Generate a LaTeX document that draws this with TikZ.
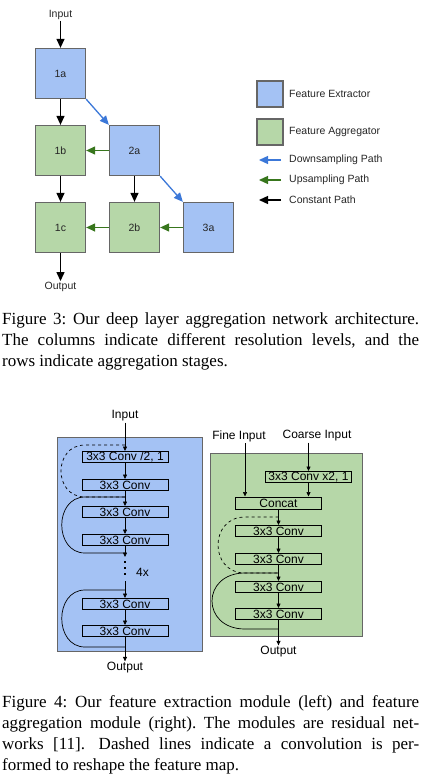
\documentclass[tikz,border=0pt]{standalone}
\usepackage{fontspec}
\setmainfont{Liberation Serif}
\newfontfamily\diagfont{Liberation Sans}
\usetikzlibrary{arrows.meta,positioning}

\definecolor{extblue}{HTML}{A4C2F4}
\definecolor{agggreen}{HTML}{B6D7A8}
\definecolor{downblue}{HTML}{3C78D8}
\definecolor{upgreen}{HTML}{38761D}
\definecolor{edgegray}{HTML}{666666}

\tikzset{
  stage/.style={draw=edgegray, line width=1.3pt, minimum size=50pt, inner sep=0pt,
    font=\diagfont\fontsize{10.5}{12}\selectfont, text=black!85},
  extractor/.style={stage, fill=extblue},
  aggregator/.style={stage, fill=agggreen},
  lbl/.style={font=\diagfont\fontsize{10.5}{12}\selectfont, text=black!85, inner sep=1pt},
  constpath/.style={-{Triangle[length=9pt,width=8pt]}, line width=1.3pt, black},
  downpath/.style={constpath, downblue},
  uppath/.style={constpath, upgreen},
  convbox/.style={draw, line width=1pt, minimum width=86pt, minimum height=11pt,
    inner sep=0pt, font=\diagfont\fontsize{12}{12}\selectfont},
  modlbl/.style={font=\diagfont\fontsize{12}{12}\selectfont, inner sep=1pt},
  flowarrow/.style={-{Triangle[length=4.5pt,width=4pt]}, line width=0.7pt},
  resline/.style={line width=0.7pt},
  modframe/.style={draw=edgegray, line width=1pt},
  figcap/.style={text width=417pt, align=justify, inner sep=0pt,
    font=\fontsize{17}{21}\selectfont\frenchspacing, anchor=base west}
}

\begin{document}
\begin{tikzpicture}[x=1pt,y=-1pt,node distance={77pt and 74pt},on grid]
\useasboundingbox (0,0) rectangle (421,774);

% figure 3: aggregation grid
\node[lbl] (in3) at (60.5,15) {Input};
\node[extractor] (n1a) at (60.5,73.5) {1a};
\node[aggregator, below=of n1a] (n1b) {1b};
\node[aggregator, below=of n1b] (n1c) {1c};
\node[extractor, right=of n1b] (n2a) {2a};
\node[aggregator, below=of n2a] (n2b) {2b};
\node[extractor, right=of n2b] (n3a) {3a};
\node[lbl] (out3) at (60.5,287) {Output};

\draw[constpath] (in3) -- (n1a);
\draw[constpath] (n1a) -- (n1b);
\draw[constpath] (n1b) -- (n1c);
\draw[constpath] (n2a) -- (n2b);
\draw[constpath] (n1c) -- (out3);
\draw[downpath] (n1a.south east) -- (n2a.north west);
\draw[downpath] (n2a.south east) -- (n3a.north west);
\draw[uppath] (n2a) -- (n1b);
\draw[uppath] (n3a) -- (n2b);
\draw[uppath] (n2b) -- (n1c);

% legend
\node[extractor, minimum size=26pt] (keyext) at (270,94) {};
\node[aggregator, minimum size=26pt] (keyagg) at (270,132) {};
\node[lbl, anchor=west] (keyexttxt) at (288,94) {Feature Extractor};
\node[lbl, anchor=west] (keyaggtxt) at (288,132) {Feature Aggregator};
\node[lbl, anchor=west] (keydowntxt) at (288,160) {Downsampling Path};
\node[lbl, anchor=west] (keyuptxt) at (288,180) {Upsampling Path};
\node[lbl, anchor=west] (keyconsttxt) at (288,200) {Constant Path};
\coordinate (kd1) at (281,160); \coordinate (kd2) at (259,160);
\coordinate (ku1) at (281,180); \coordinate (ku2) at (259,180);
\coordinate (kc1) at (281,200); \coordinate (kc2) at (259,200);
\draw[downpath] (kd1) -- (kd2);
\draw[uppath] (ku1) -- (ku2);
\draw[constpath] (kc1) -- (kc2);

\node[figcap] (cap3) at (2,324.5) {Figure 3: Our deep layer aggregation network architecture.\linebreak
The columns indicate different resolution levels, and the\linebreak
rows indicate aggregation stages.};

% figure 4, left: feature extraction module
\draw[modframe, fill=extblue] (57,437) rectangle (202,651);
\node[modlbl] (in4) at (125,416) {Input};
\node[convbox] (c1) at (125,457) {3x3 Conv /2, 1};
\node[convbox] (c2) at (125,485) {3x3 Conv};
\node[convbox] (c3) at (125,512) {3x3 Conv};
\node[convbox] (c4) at (125,540) {3x3 Conv};
\node[convbox] (c5) at (125,604) {3x3 Conv};
\node[convbox] (c6) at (125,631) {3x3 Conv};
\node[modlbl] (out4) at (125,668) {Output};
\node[modlbl, anchor=west] (rep) at (135,572) {4x};
\coordinate (j0) at (125,445);
\coordinate (j1) at (125,497);
\coordinate (j2) at (125,553);
\coordinate (j3) at (125,590);
\coordinate (j4) at (125,647);
\coordinate (d0) at (125,557);
\coordinate (d1) at (125,581);

\draw[flowarrow] (in4) -- (c1);
\draw[flowarrow] (c1) -- (c2);
\draw[flowarrow] (c2) -- (c3);
\draw[flowarrow] (c3) -- (c4);
\draw[flowarrow] (c4) -- (d0);
\draw[flowarrow] (d1) -- (c5);
\draw[flowarrow] (c5) -- (c6);
\draw[flowarrow] (c6) -- (out4);
\foreach \y in {561,567,573}
  \fill (123.8,\y) rectangle ++(2.4,2.4);
\draw[resline, dashed] (j0) -- (85,445) .. controls (53,445) and (53,497) .. (85,497) -- (j1);
\draw[resline] (j1) -- (85,497) .. controls (54,497) and (54,553) .. (85,553) -- (j2);
\draw[resline] (j3) -- (85,590) .. controls (54,590) and (54,647) .. (85,647) -- (j4);

% figure 4, right: feature aggregation module
\draw[modframe, fill=agggreen] (210,453) rectangle (362,636);
\node[modlbl] (fine) at (239,436) {Fine Input};
\node[modlbl] (coarse) at (317,436) {Coarse Input};
\node[convbox] (up) at (308.5,477) {3x3 Conv x2, 1};
\node[convbox, minimum height=12pt] (cat) at (278.5,503) {Concat};
\node[convbox] (r1) at (278.5,531) {3x3 Conv};
\node[convbox] (r2) at (278.5,559) {3x3 Conv};
\node[convbox] (r3) at (278.5,587) {3x3 Conv};
\node[convbox] (r4) at (278.5,614) {3x3 Conv};
\node[modlbl] (out4r) at (278.5,652) {Output};
\coordinate (finein) at (245,443);
\coordinate (k0) at (278.5,517);
\coordinate (k1) at (278.5,573);
\coordinate (k2) at (278.5,629);

\draw[flowarrow] (finein) -- (finein |- cat.north);
\draw[flowarrow] (coarse.south -| up) -- (up);
\draw[flowarrow] (up) -- (up |- cat.north);
\draw[flowarrow] (cat) -- (r1);
\draw[flowarrow] (r1) -- (r2);
\draw[flowarrow] (r2) -- (r3);
\draw[flowarrow] (r3) -- (r4);
\draw[flowarrow] (r4) -- (out4r);
\draw[resline, dashed] (k0) -- (245,517) .. controls (209,517) and (209,573) .. (245,573) -- (k1);
\draw[resline] (k1) -- (245,573) .. controls (201,573) and (201,629) .. (245,629) -- (k2);

\node[figcap] (cap4) at (2,707) {Figure 4: Our feature extraction module (left) and feature\linebreak
aggregation module (right). The modules are residual net-\linebreak
works [11].\hspace{0.25em} Dashed lines indicate a convolution is per-\linebreak
formed to reshape the feature map.};
\end{tikzpicture}
\end{document}
